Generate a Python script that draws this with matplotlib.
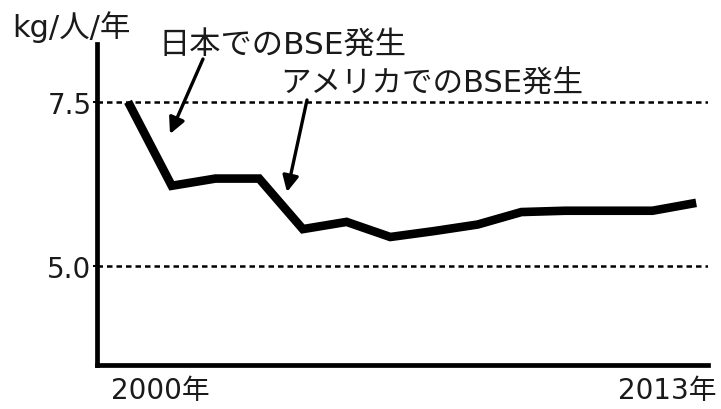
import matplotlib
matplotlib.use("Agg")
import matplotlib.pyplot as plt
from matplotlib.transforms import ScaledTranslation

plt.rcParams['font.family'] = ['DejaVu Sans', 'Noto Sans CJK JP']

# Beef consumption per person per year (kg)
years = [2000, 2001, 2002, 2003, 2004, 2005, 2006, 2007, 2008, 2009, 2010, 2011, 2012, 2013]
consumption = [7.5, 6.22, 6.33, 6.33, 5.56, 5.67, 5.44, 5.53, 5.63, 5.82, 5.84, 5.84, 5.84, 5.96]

ytick_values = [5.0, 7.5]
ytick_labels = ["5.0", "7.5"]
xtick_values = [2000, 2013]
xtick_labels = ["2000年", "2013年"]

unit_label = "kg/人/年"
event_japan = "日本でのBSE発生"
event_usa = "アメリカでのBSE発生"

W, H = 721, 410
fig = plt.figure(figsize=(W / 100, H / 100), dpi=100)
ax = fig.add_axes([97 / W, 1 - 366 / H, (708 - 97) / W, (366 - 45) / H])

text_color = "#1a1a1a"

# reference levels
for v in ytick_values:
    ax.axhline(v, color="black", lw=1.8, dashes=(2.2, 1.6), zorder=1)

ax.plot(years, consumption, color="black", lw=6.2, solid_joinstyle="miter",
        solid_capstyle="butt", zorder=3)

ax.set_xlim(1999.29, 2013.27)
ax.set_ylim(3.49, 8.38)

for side in ("top", "right"):
    ax.spines[side].set_visible(False)
for side in ("left", "bottom"):
    ax.spines[side].set_linewidth(3.4)
    ax.spines[side].set_color("black")
    ax.spines[side].set_capstyle("projecting")

ax.set_yticks(ytick_values, ytick_labels)
ax.tick_params(axis="y", length=3, width=1.5, pad=1, labelsize=20, labelcolor=text_color)
ax.set_xticks(xtick_values, xtick_labels)
ax.tick_params(axis="x", length=0, pad=8, labelsize=20, labelcolor=text_color)

# shift year labels sideways (points)
for lab, dx in zip(ax.get_xticklabels(), (23, -21)):
    lab.set_transform(lab.get_transform() + ScaledTranslation(dx / 72, 0, fig.dpi_scale_trans))

fig.text(12 / W, 1 - 27 / H, unit_label, ha="left", va="center",
         fontsize=22, color=text_color)

fig.text(158 / W, 1 - 46 / H, event_japan, ha="left", va="center",
         fontsize=22.5, color=text_color)
fig.text(280 / W, 1 - 84 / H, event_usa, ha="left", va="center",
         fontsize=22, color=text_color)

arrow_kw = dict(arrowstyle="-|>", lw=2.4, color="black", mutation_scale=24,
                shrinkA=0, shrinkB=0)
ax.annotate("", xy=(170, H - 135), xycoords="figure pixels",
            xytext=(203, H - 60), textcoords="figure pixels", arrowprops=arrow_kw)
ax.annotate("", xy=(287, H - 193), xycoords="figure pixels",
            xytext=(307, H - 101), textcoords="figure pixels", arrowprops=arrow_kw)

fig.savefig("out.png", dpi=100, facecolor="white")
